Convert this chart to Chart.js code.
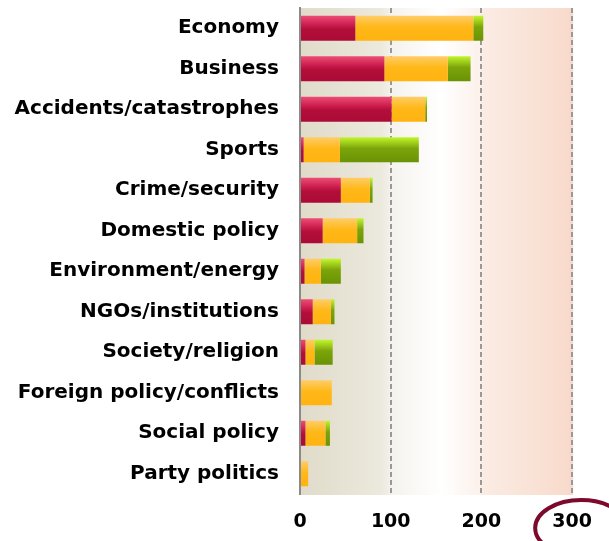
<!DOCTYPE html>
<html>
<head>
<meta charset="utf-8">
<script src="https://cdn.jsdelivr.net/npm/chart.js@4/dist/chart.umd.min.js"></script>
<style>
  html, body { margin: 0; padding: 0; background: #fff; }
  #wrap { width: 609px; height: 541px; }
</style>
</head>
<body>
<div id="wrap"><canvas id="chart" width="609" height="541"></canvas></div>
<script>
(() => {
  const categories = [
    "Economy",
    "Business",
    "Accidents/catastrophes",
    "Sports",
    "Crime/security",
    "Domestic policy",
    "Environment/energy",
    "NGOs/institutions",
    "Society/religion",
    "Foreign policy/conflicts",
    "Social policy",
    "Party politics",
  ];
  const redValues = [61, 93, 101, 4, 45, 25, 5, 14, 6, 0, 6, 0];
  const orangeValues = [130, 70, 37, 40, 32, 38, 18, 20, 10, 35, 22, 9];
  const greenValues = [11, 25, 2, 87, 3, 7, 22, 4, 20, 0, 5, 0];
  const xTicks = [0, 100, 200, 300];
  const highlightTick = 300;

  const FONT = "'DejaVu Sans', Verdana, sans-serif";

  // vertical shine on each bar, top lighter
  function barGradient(stops, fallback) {
    return (c) => {
      const y = c.chart.scales.y;
      if (!y || c.dataIndex === undefined) return fallback;
      const mid = y.getPixelForValue(c.dataIndex);
      if (!Number.isFinite(mid)) return fallback;
      const g = c.chart.ctx.createLinearGradient(0, mid - 12.5, 0, mid + 12.5);
      stops.forEach(([o, col]) => g.addColorStop(o, col));
      return g;
    };
  }

  const backdrop = {
    id: "backdrop",
    beforeDraw(chart) {
      const { ctx, chartArea: a } = chart;
      const g = ctx.createLinearGradient(a.left, 0, a.right, 0);
      g.addColorStop(0, "#e0dbc9");
      g.addColorStop(0.3, "#ece9de");
      g.addColorStop(0.34, "#f5f3ee");
      g.addColorStop(0.52, "#ffffff");
      g.addColorStop(0.66, "#fcf1eb");
      g.addColorStop(0.67, "#fbece4");
      g.addColorStop(1, "#f8dacb");
      ctx.save();
      ctx.fillStyle = g;
      ctx.fillRect(a.left, a.top, a.right - a.left + 1, a.bottom - a.top + 1);
      ctx.restore();
    },
  };

  const circleTick = {
    id: "circleTick",
    afterDraw(chart) {
      const { ctx } = chart;
      const cx = chart.scales.x.getPixelForValue(highlightTick) + 9;
      ctx.save();
      ctx.strokeStyle = "#7d0a2c";
      ctx.lineWidth = 4;
      ctx.beginPath();
      ctx.ellipse(cx, 528, 46, 28, 0, 0, Math.PI * 2);
      ctx.stroke();
      ctx.restore();
    },
  };

  new Chart(document.getElementById("chart"), {
    type: "bar",
    data: {
      labels: categories,
      datasets: [
        {
          data: redValues,
          backgroundColor: barGradient(
            [[0, "#ee4d75"], [0.4, "#c8194a"], [0.55, "#b20e3a"], [1, "#ac0b37"]],
            "#b20e3a",
          ),
        },
        {
          data: orangeValues,
          backgroundColor: barGradient(
            [[0, "#ffcd68"], [0.45, "#ffb818"], [1, "#ffb310"]],
            "#ffb512",
          ),
        },
        {
          data: greenValues,
          backgroundColor: barGradient(
            [[0, "#c2f62c"], [0.45, "#7ca40a"], [1, "#6a9304"]],
            "#6e9606",
          ),
        },
      ],
    },
    options: {
      responsive: false,
      animation: false,
      indexAxis: "y",
      layout: { padding: { top: 8, right: 33, left: 0, bottom: 0 } },
      datasets: {
        bar: { barPercentage: 1, categoryPercentage: 0.62, borderWidth: 0 },
      },
      plugins: { legend: { display: false }, tooltip: { enabled: false } },
      scales: {
        x: {
          stacked: true,
          min: 0,
          max: 300,
          afterFit: (s) => { s.height = 47; },
          afterBuildTicks: (s) => { s.ticks = xTicks.map((v) => ({ value: v })); },
          grid: {
            drawTicks: false,
            lineWidth: 2,
            color: (c) => (c.tick && c.tick.value === 0 ? "rgba(0,0,0,0)" : "#999999"),
          },
          border: { display: false, dash: [5, 3] },
          ticks: {
            padding: 17,
            color: "#000",
            font: { family: FONT, size: 19, weight: "bold" },
          },
        },
        y: {
          stacked: true,
          afterFit: (s) => {
            s.width = 300;
            s.paddingTop = 0;
            s.paddingBottom = 0;
          },
          grid: { display: false, drawTicks: false },
          border: { display: true, color: "#8a8a8a", width: 2 },
          ticks: {
            padding: 21,
            color: "#000",
            font: { family: FONT, size: 20, weight: "bold" },
          },
        },
      },
    },
    plugins: [backdrop, circleTick],
  });
})();
</script>
</body>
</html>
